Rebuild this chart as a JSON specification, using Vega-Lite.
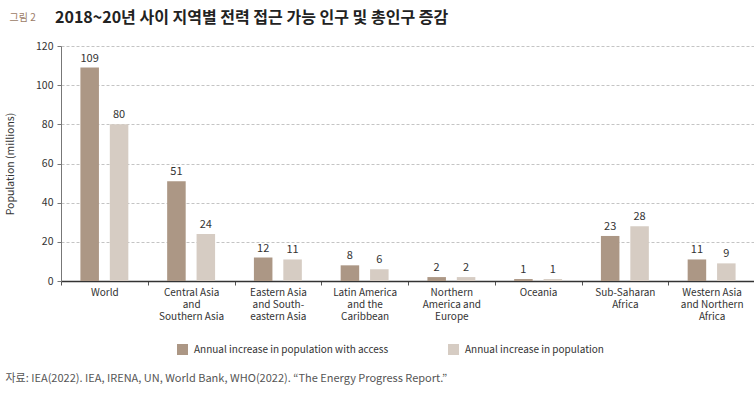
{
  "$schema": "https://vega.github.io/schema/vega-lite/v6.json",
  "autosize": "none",
  "width": 694,
  "height": 235,
  "padding": {"left": 61, "top": 46, "right": 0, "bottom": 113},
  "background": "white",
  "config": {
    "font": "Noto Sans CJK KR",
    "view": {"stroke": null}
  },
  "title": {
    "text": "2018~20년 사이 지역별 전력 접근 가능 인구 및 총인구 증감",
    "anchor": "start",
    "frame": "group",
    "dx": -6,
    "offset": -22,
    "baseline": "middle",
    "fontSize": 16,
    "fontWeight": "bold",
    "color": "#222222"
  },
  "data": {
    "values": [
      {"region": "World", "series": "Annual increase in population with access", "value": 109},
      {"region": "World", "series": "Annual increase in population", "value": 80},
      {"region": "Central Asia|and|Southern Asia", "series": "Annual increase in population with access", "value": 51},
      {"region": "Central Asia|and|Southern Asia", "series": "Annual increase in population", "value": 24},
      {"region": "Eastern Asia|and South-|eastern Asia", "series": "Annual increase in population with access", "value": 12},
      {"region": "Eastern Asia|and South-|eastern Asia", "series": "Annual increase in population", "value": 11},
      {"region": "Latin America|and the|Caribbean", "series": "Annual increase in population with access", "value": 8},
      {"region": "Latin America|and the|Caribbean", "series": "Annual increase in population", "value": 6},
      {"region": "Northern|America and|Europe", "series": "Annual increase in population with access", "value": 2},
      {"region": "Northern|America and|Europe", "series": "Annual increase in population", "value": 2},
      {"region": "Oceania", "series": "Annual increase in population with access", "value": 1},
      {"region": "Oceania", "series": "Annual increase in population", "value": 1},
      {"region": "Sub-Saharan|Africa", "series": "Annual increase in population with access", "value": 23},
      {"region": "Sub-Saharan|Africa", "series": "Annual increase in population", "value": 28},
      {"region": "Western Asia|and Northern|Africa", "series": "Annual increase in population with access", "value": 11},
      {"region": "Western Asia|and Northern|Africa", "series": "Annual increase in population", "value": 9}
    ]
  },
  "encoding": {
    "x": {
      "field": "region",
      "type": "nominal",
      "sort": null,
      "scale": {"paddingInner": 0, "paddingOuter": 0},
      "axis": {
        "title": "자료: IEA(2022). IEA, IRENA, UN, World Bank, WHO(2022). “The Energy Progress Report.”",
        "titleX": -56,
        "titleY": 97,
        "titleAlign": "left",
        "titleAnchor": null,
        "titleBaseline": "middle",
        "titleFontSize": 11,
        "titleFontWeight": "normal",
        "titleColor": "#555555",
        "labelExpr": "split(datum.label, '|')",
        "labelAngle": 0,
        "labelFontSize": 10,
        "labelColor": "#333333",
        "labelPadding": 7,
        "labelLineHeight": 12,
        "labelBaseline": "middle",
        "tickBand": "extent",
        "tickSize": 4,
        "tickColor": "#555555",
        "domainColor": "#333333",
        "domainWidth": 1.5
      }
    },
    "xOffset": {
      "field": "series",
      "type": "nominal",
      "sort": ["Annual increase in population with access", "Annual increase in population"],
      "scale": {"paddingInner": 0.37, "paddingOuter": 0.66}
    }
  },
  "layer": [
    {
      "mark": {"type": "bar"},
      "encoding": {
        "y": {
          "field": "value",
          "type": "quantitative",
          "scale": {"domain": [0, 120]},
          "axis": {
            "values": [0, 20, 40, 60, 80, 100, 120],
            "title": "Population (millions)",
            "titleX": -46,
            "titleY": 117.5,
            "titleFontSize": 10.5,
            "titleFontWeight": "normal",
            "titleColor": "#333333",
            "labelFontSize": 10.5,
            "labelColor": "#333333",
            "labelPadding": 4,
            "tickSize": 4,
            "tickColor": "#777777",
            "domainColor": "#777777",
            "grid": true,
            "gridDash": [3, 2],
            "gridColor": "#c4c4c4"
          }
        },
        "color": {
          "field": "series",
          "type": "nominal",
          "scale": {
            "domain": ["Annual increase in population with access", "Annual increase in population"],
            "range": ["#ac9785", "#d6ccc3"]
          },
          "legend": {
            "title": null,
            "orient": "none",
            "legendX": 116,
            "legendY": 298,
            "direction": "horizontal",
            "symbolType": "square",
            "symbolSize": 121,
            "symbolStrokeWidth": 0,
            "labelFontSize": 10,
            "labelColor": "#333333",
            "labelOffset": 6,
            "labelLimit": 0,
            "columnPadding": 59
          }
        }
      }
    },
    {
      "mark": {"type": "text", "baseline": "bottom", "dy": -4, "fontSize": 11, "color": "#333333"},
      "encoding": {
        "y": {
          "field": "value",
          "type": "quantitative",
          "scale": {"domain": [0, 120]},
          "axis": {
            "orient": "right",
            "title": "그림 2",
            "titleAngle": 0,
            "titleX": -746,
            "titleY": -29,
            "titleAlign": "left",
            "titleBaseline": "middle",
            "titleFontSize": 10,
            "titleFontWeight": "normal",
            "titleColor": "#9b7b66",
            "labels": false,
            "ticks": false,
            "domain": false,
            "grid": false
          }
        },
        "text": {"field": "value", "type": "quantitative"}
      }
    }
  ],
  "resolve": {"scale": {"y": "independent"}, "axis": {"y": "independent"}}
}
